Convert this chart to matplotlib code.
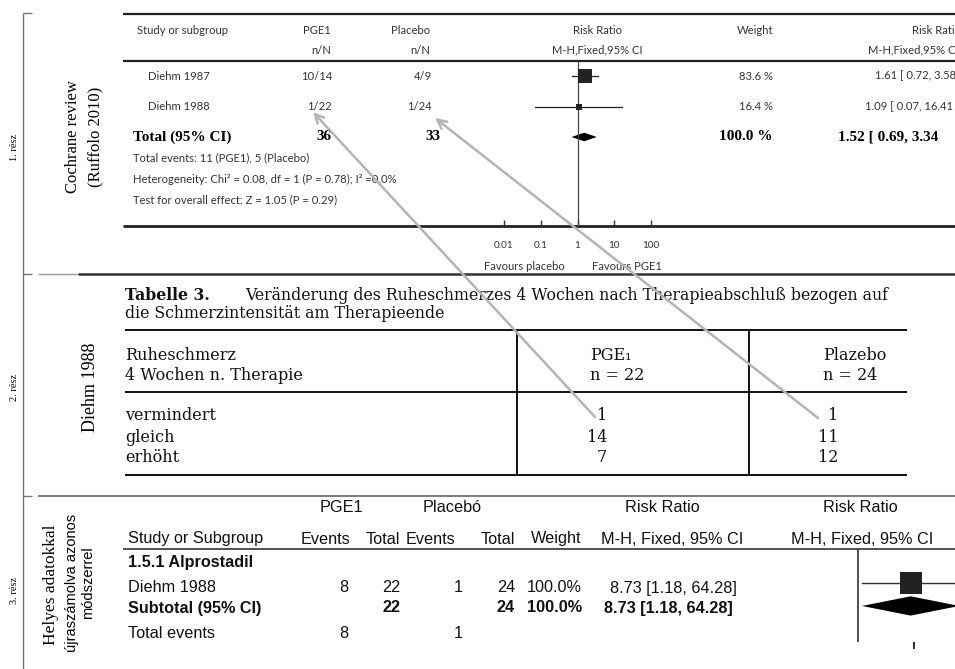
#!/usr/bin/env python3
"""
plot.py -- three-part comparison figure: Cochrane forest plot (Ruffolo 2010),
the original Diehm 1988 table, and the recalculated forest plot.
Writes out.png (955x669).
"""
import numpy as np
import matplotlib
matplotlib.use("Agg")
import matplotlib.pyplot as plt
from matplotlib.ticker import NullLocator

W, H = 955, 669

# ---- part 1: Cochrane review (Ruffolo 2010) ----
studies_1 = ["Diehm 1987", "Diehm 1988"]
pge1_nN_1 = ["10/14", "1/22"]
placebo_nN_1 = ["4/9", "1/24"]
weights_1 = [83.6, 16.4]
rr_1 = [1.61, 1.09]
lo_1 = [0.72, 0.07]
hi_1 = [3.58, 16.41]
total_rr_1, total_lo_1, total_hi_1 = 1.52, 0.69, 3.34
total_n_1 = [36, 33]
footer_1 = ["Total events: 11 (PGE1), 5 (Placebo)",
            "Heterogeneity: Chi² = 0.08, df = 1 (P = 0.78); I² =0.0%",
            "Test for overall effect: Z = 1.05 (P = 0.29)"]
ticks_1 = [0.01, 0.1, 1, 10, 100]
tick_labels_1 = ["0.01", "0.1", "1", "10", "100"]

# ---- part 2: Diehm 1988, Tabelle 3 ----
rows_2 = ["vermindert", "gleich", "erhöht"]
pge_2 = [1, 14, 7]
plazebo_2 = [1, 11, 12]

# ---- part 3: recalculated ----
study_3 = "Diehm 1988"
events_3 = [8, 1]
totals_3 = [22, 24]
weight_3 = 100.0
rr_3, lo_3, hi_3 = 8.73, 1.18, 64.28

SERIF = ["Liberation Serif", "DejaVu Serif"]
SLAB = ["DejaVu Serif"]
SANS = ["Liberation Sans", "DejaVu Sans"]
GILL = ["Lato", "DejaVu Sans"]


def fbox(x0, y0, x1, y1):
    # pixel box (top-left origin) -> figure fraction rect
    return [x0 / W, 1 - y1 / H, (x1 - x0) / W, (y1 - y0) / H]


fig = plt.figure(figsize=(W / 100, H / 100), dpi=100)
ax = fig.add_axes([0, 0, 1, 1])
ax.set_xlim(0, W)
ax.set_ylim(H, 0)
ax.axis("off")


def hline(y, x0, x1, lw=1.2, color="#222222"):
    ax.plot([x0, x1], [y, y], color=color, lw=lw, solid_capstyle="butt")


def vline(x, y0, y1, lw=1.2, color="#222222"):
    ax.plot([x, x], [y0, y1], color=color, lw=lw, solid_capstyle="butt")


# frame on the left + part separators
vline(23, 13, H, lw=1.0, color="#777777")
for y in (13, 274, 496):
    hline(y, 23, 32, lw=1.0, color="#777777")
hline(274, 38, 78, lw=1.0, color="#999999")
hline(274, 78, W, lw=1.8, color="#333333")
hline(496, 38, W, lw=1.2, color="#666666")

for y, lab in [(147, "1. rész"), (387, "2. rész"), (590, "3. rész")]:
    ax.text(14, y, lab, rotation=90, ha="center", va="center",
            fontsize=7.5, family=SERIF)

# ================= part 1 =================
ax.text(73, 137, "Cochrane review", rotation=90, ha="center", va="center",
        fontsize=12, family=SERIF)
ax.text(95, 137, "(Ruffolo 2010)", rotation=90, ha="center", va="center",
        fontsize=12, family=SERIF)

hline(14, 123, W, lw=1.6)
hline(61, 123, W, lw=1.6)
hline(226, 123, W, lw=2.0)

small = dict(fontsize=8.1, family=GILL, color="#333333", va="center")
ax.text(137, 30, "Study or subgroup", ha="left", **small)
ax.text(331, 30, "PGE1", ha="right", **small)
ax.text(430, 30, "Placebo", ha="right", **small)
ax.text(597, 30, "Risk Ratio", ha="center", **small)
ax.text(773, 30, "Weight", ha="right", **small)
# right-hand column runs off the edge in the original: only its visible part
ax.text(912, 30, "Risk Ratio"[:9], ha="left", **small)
ax.text(331, 50, "n/N", ha="right", **small)
ax.text(430, 50, "n/N", ha="right", **small)
ax.text(597, 50, "M-H,Fixed,95% CI", ha="center", **small)
ax.text(868, 50, "M-H,Fixed,95% CI"[:15], ha="left", **small)

row_y_1 = [76, 107]
ci_x_1 = [875, 865]
for i, name in enumerate(studies_1):
    y = row_y_1[i]
    ax.text(148, y, name, ha="left", **small)
    ax.text(332, y, pge1_nN_1[i], ha="right", **small)
    ax.text(432, y, placebo_nN_1[i], ha="right", **small)
    ax.text(773, y, f"{weights_1[i]:.1f} %", ha="right", **small)
    ax.text(ci_x_1[i], y, f"{rr_1[i]:.2f} [ {lo_1[i]:.2f}, {hi_1[i]:.2f}",
            ha="left", **small)

bold = dict(fontsize=11, family=SERIF, fontweight="bold", va="center")
ax.text(133, 137, "Total (95% CI)", ha="left", **bold)
ax.text(332, 137, str(total_n_1[0]), ha="right", **bold)
ax.text(440, 137, str(total_n_1[1]), ha="right", **bold)
ax.text(772, 137, f"{sum(weights_1):.1f} %", ha="right", **bold)
ax.text(838, 137, f"{total_rr_1:.2f} [ {total_lo_1:.2f}, {total_hi_1:.2f}",
        ha="left", **bold)

for j, line in enumerate(footer_1):
    ax.text(133, 158 + 21 * j, line, ha="left", **small)

ax.text(524, 266, "Favours placebo", ha="center", **small)
ax.text(627, 266, "Favours PGE1", ha="center", **small)

# forest plot, part 1 (row index on y)
fa = fig.add_axes(fbox(504, 62, 651, 226))
fa.patch.set_visible(False)
fa.set_xscale("log")
fa.set_xlim(0.01, 100)
fa.set_ylim(4.92, -0.46)
for s in fa.spines.values():
    s.set_visible(False)
fa.axvline(1, color="#444444", lw=0.9)
for i in range(len(studies_1)):
    fa.plot([lo_1[i], hi_1[i]], [i, i], color="#222222", lw=0.9)
    fa.plot(rr_1[i], i, marker="s", color="#222222",
            ms=10.5 * np.sqrt(weights_1[i] / 100.0), mew=0)
ty = 2.0
dh = 0.14
fa.fill([total_lo_1, total_rr_1, total_hi_1, total_rr_1],
        [ty, ty - dh, ty, ty + dh], color="black", lw=0)
fa.set_yticks([])
fa.set_xticks(ticks_1)
fa.set_xticklabels(tick_labels_1)
fa.xaxis.set_minor_locator(NullLocator())
fa.tick_params(axis="x", direction="in", length=4, width=1.0, pad=11,
               labelsize=7.2, colors="#333333")
for t in fa.get_xticklabels():
    t.set_family(GILL)

# ================= part 2 =================
ax.text(90, 387, "Diehm 1988", rotation=90, ha="center", va="center",
        fontsize=13, family=SERIF)

cap = dict(fontsize=11.3, family=SLAB, va="center", color="#111111")
ax.text(125, 295, "Tabelle 3.", ha="left", fontweight="bold", **cap)
ax.text(245, 295, "Veränderung des Ruheschmerzes 4 Wochen nach Therapieabschluß bezogen auf",
        ha="left", **cap)
ax.text(125, 314, "die Schmerzintensität am Therapieende", ha="left", **cap)

hline(330, 125, 907, lw=1.4, color="#111111")
hline(392, 125, 907, lw=1.4, color="#111111")
hline(475, 125, 907, lw=1.4, color="#111111")
vline(517, 330, 475, lw=1.4, color="#111111")
vline(749, 330, 475, lw=1.4, color="#111111")

tab = dict(fontsize=11.5, family=SLAB, va="center", color="#111111")
ax.text(125, 355, "Ruheschmerz", ha="left", **tab)
ax.text(125, 376, "4 Wochen n. Therapie", ha="left", **tab)
ax.text(590, 355, "PGE₁", ha="left", **tab)
ax.text(590, 376, "n = 22", ha="left", **tab)
ax.text(823, 355, "Plazebo", ha="left", **tab)
ax.text(823, 376, "n = 24", ha="left", **tab)
row_y_2 = [416, 437, 458]
for i, name in enumerate(rows_2):
    ax.text(125, row_y_2[i], name, ha="left", **tab)
    ax.text(607, row_y_2[i], str(pge_2[i]), ha="right", **tab)
    ax.text(838, row_y_2[i], str(plazebo_2[i]), ha="right", **tab)

# ================= part 3 =================
ax.text(51, 585, "Helyes adatokkal", rotation=90, ha="center", va="center",
        fontsize=12.5, family=SERIF)
ax.text(72, 583, "újraszámolva azonos", rotation=90, ha="center", va="center",
        fontsize=10.5, family=SANS)
ax.text(88, 583, "módszerrel", rotation=90, ha="center", va="center",
        fontsize=10.5, family=SANS)

arial = dict(fontsize=11.7, family=SANS, va="center", color="#111111")
ax.text(341, 508, "PGE1", ha="center", **arial)
ax.text(452, 508, "Placebó", ha="center", **arial)
ax.text(662, 508, "Risk Ratio", ha="center", **arial)
ax.text(860, 508, "Risk Ratio", ha="center", **arial)
ax.text(128, 539, "Study or Subgroup", ha="left", **arial)
ax.text(350, 539, "Events", ha="right", **arial)
ax.text(400, 539, "Total", ha="right", **arial)
ax.text(455, 539, "Events", ha="right", **arial)
ax.text(515, 539, "Total", ha="right", **arial)
ax.text(581, 539, "Weight", ha="right", **arial)
ax.text(672, 539, "M-H, Fixed, 95% CI", ha="center", **arial)
ax.text(862, 539, "M-H, Fixed, 95% CI", ha="center", **arial)
hline(549, 123, W, lw=1.2, color="#333333")

ax.text(128, 562, "1.5.1 Alprostadil", ha="left", fontweight="bold", **arial)
ax.text(128, 588, study_3, ha="left", **arial)
ax.text(348, 588, str(events_3[0]), ha="right", **arial)
ax.text(400, 588, str(totals_3[0]), ha="right", **arial)
ax.text(463, 588, str(events_3[1]), ha="right", **arial)
ax.text(515, 588, str(totals_3[1]), ha="right", **arial)
ax.text(582, 588, f"{weight_3:.1f}%", ha="right", **arial)
ax.text(737, 588, f"{rr_3:.2f} [{lo_3:.2f}, {hi_3:.2f}]", ha="right", **arial)
ax.text(128, 608, "Subtotal (95% CI)", ha="left", fontweight="bold", **arial)
ax.text(400, 608, str(totals_3[0]), ha="right", fontweight="bold", **arial)
ax.text(515, 608, str(totals_3[1]), ha="right", fontweight="bold", **arial)
ax.text(582, 608, f"{weight_3:.1f}%", ha="right", fontweight="bold", **arial)
ax.text(733, 608, f"{rr_3:.2f} [{lo_3:.2f}, {hi_3:.2f}]", ha="right",
        fontweight="bold", **arial)
ax.text(128, 633, "Total events", ha="left", **arial)
ax.text(348, 633, str(events_3[0]), ha="right", **arial)
ax.text(463, 633, str(events_3[1]), ha="right", **arial)

# forest plot, part 3 (1 at x=858, 56 px per decade)
fb = fig.add_axes(fbox(820, 549, W, 642))
fb.patch.set_visible(False)
fb.set_xscale("log")
fb.set_xlim(10 ** (-38 / 56), 10 ** (97 / 56))
fb.set_ylim(2.57, -1.48)
for s in fb.spines.values():
    s.set_visible(False)
fb.axvline(1, color="#333333", lw=1.2)
fb.plot([lo_3, hi_3], [0, 0], color="#333333", lw=1.0, clip_on=False)
fb.plot(rr_3, 0, marker="s", color="#222222", ms=16.5, mew=0, zorder=3)
dh3 = 0.42
fb.fill([lo_3, rr_3, hi_3, rr_3], [1, 1 - dh3, 1, 1 + dh3], color="black",
        lw=0, zorder=4, clip_on=False)
fb.set_yticks([])
fb.set_xticks([10])
fb.set_xticklabels([])
fb.xaxis.set_minor_locator(NullLocator())
fb.tick_params(axis="x", direction="out", length=5, width=1.5, colors="#333333")

# grey arrows from the original table to the Cochrane numbers
arrow_kw = dict(arrowstyle="->", color="#b4b4b4", lw=1.8, mutation_scale=16,
                shrinkA=0, shrinkB=0)
ax.annotate("", xy=(313, 112), xytext=(595, 417), arrowprops=arrow_kw, zorder=10)
ax.annotate("", xy=(435, 118), xytext=(818, 418), arrowprops=arrow_kw, zorder=10)

fig.savefig("out.png", dpi=100)
plt.close(fig)
